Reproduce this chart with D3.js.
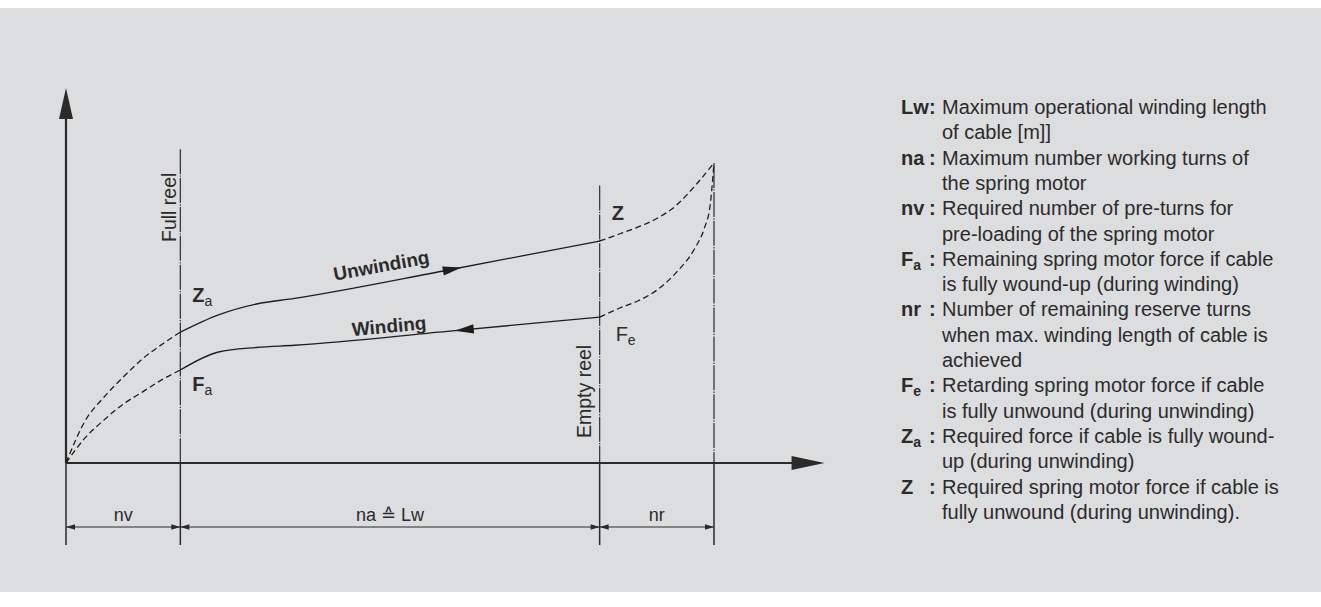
<!DOCTYPE html>
<html>
<head>
<meta charset="utf-8">
<script src="https://cdn.jsdelivr.net/npm/d3@7"></script>
<style>
  body { margin: 0; background: #fff; }
  text { font-family: "Liberation Sans", Arial, sans-serif; fill: #2b2b2b; }
</style>
</head>
<body>
<div id="chart"></div>
<script>
// turns on the x axis: pre-turns, working turns, reserve turns
let segments = [
  {label: "nv", turns: 3},
  {label: "na \u2259 Lw", turns: 11},
  {label: "nr", turns: 3}
];

// force curves [turns, force], each split in dashed / solid / dashed part
let zStart = [[0,0],[0.5,11.2],[1,17.6],[1.5,22.9],[2,27.7],[2.5,31.5],[3,34.9]];
let zRun   = [[3,34.9],[4,39.5],[5,42.4],[6,43.9],[10,51.4],[14,59.2]];
let zEnd   = [[14,59.2],[14.5,61.0],[15,62.9],[15.5,65.2],[16,68.6],[16.5,73.9],[17,80]];

let fStart = [[0,0],[0.5,6.7],[1,11.5],[1.5,15.7],[2,18.9],[2.5,22.1],[3,24.8]];
let fRun   = [[3,24.8],[4,29.6],[5,30.8],[6,31.4],[10,35.1],[14,38.9]];
let fEnd   = [[14,38.9],[14.5,41.2],[15,43.2],[15.5,46.1],[16,50.7],[16.5,57.3],[16.75,62.7],[16.9,68.8],[17,80]];

let reelLines = [
  {turns: 3,  top: 83.7, label: "Full reel"},
  {turns: 14, top: 74,   label: "Empty reel"},
  {turns: 17, top: 80,   label: null}
];

let legendKeys = [
  {key: "Lw", sub: null, lines: ["Maximum operational winding length", "of cable [m]]"]},
  {key: "na", sub: null, lines: ["Maximum number working turns of", "the spring motor"]},
  {key: "nv", sub: null, lines: ["Required number of pre-turns for", "pre-loading of the spring motor"]},
  {key: "F",  sub: "a",  lines: ["Remaining spring motor force if cable", "is fully wound-up (during winding)"]},
  {key: "nr", sub: null, lines: ["Number of remaining reserve turns", "when max. winding length of cable is", "achieved"]},
  {key: "F",  sub: "e",  lines: ["Retarding spring motor force if cable", "is fully unwound (during unwinding)"]},
  {key: "Z",  sub: "a",  lines: ["Required force if cable is fully wound-", "up (during unwinding)"]},
  {key: "Z",  sub: null, lines: ["Required spring motor force if cable is", "fully unwound (during unwinding)."]}
];

let svgWidth = 1321;
let svgHeight = 607;
let xMax = 19.9;
let yMax = 100;

let svg = d3.select("#chart")
  .append("svg")
  .attr("width", svgWidth)
  .attr("height", svgHeight)

svg.append("rect")
  .attr("x", 0).attr("y", 8)
  .attr("width", svgWidth).attr("height", 584)
  .attr("fill", "#dcdddf")

let xScale = d3.scaleLinear().domain([0,17]).range([66,714])
let yScale = d3.scaleLinear().domain([0,yMax]).range([463,88])

let ink = "#2a2a2a";

// reel lines (dash-dot above the axis, solid below as dimension extension)
let bounds = [0];
segments.forEach(s => bounds.push(bounds[bounds.length-1] + s.turns));

reelLines.forEach(r => {
  svg.append("line")
    .attr("x1", xScale(r.turns)).attr("x2", xScale(r.turns))
    .attr("y1", yScale(r.top)).attr("y2", yScale(0))
    .attr("stroke", "#3a3a3a").attr("stroke-width", 1.3)
    .attr("stroke-dasharray", "25,1.3,1.3,1.3")
  if (r.label) {
    let lx = r.turns == 3 ? xScale(r.turns) - 4 : xScale(r.turns) - 9;
    let ly = r.turns == 3 ? 242 : 438;
    svg.append("text")
      .attr("transform", `translate(${lx},${ly}) rotate(-90)`)
      .attr("font-size", 19.5)
      .attr("fill", "#333")
      .text(r.label)
  }
});

let dimY = 527;
bounds.forEach(b => {
  svg.append("line")
    .attr("x1", xScale(b)).attr("x2", xScale(b))
    .attr("y1", yScale(0)).attr("y2", dimY + 18)
    .attr("stroke", ink).attr("stroke-width", 1.5)
});

// dimension chain
segments.forEach((s, i) => {
  let a = xScale(bounds[i]), b = xScale(bounds[i+1]);
  svg.append("line")
    .attr("x1", a).attr("x2", b).attr("y1", dimY).attr("y2", dimY)
    .attr("stroke", ink).attr("stroke-width", 1)
  svg.append("path")
    .attr("d", `M${a},${dimY}l9,-2.8v5.6z M${b},${dimY}l-9,-2.8v5.6z`)
    .attr("fill", ink)
  svg.append("text")
    .attr("x", (a+b)/2).attr("y", dimY - 6)
    .attr("text-anchor", "middle")
    .attr("font-size", 18)
    .text(s.label)
});

// axes with arrow heads
svg.append("line")
  .attr("x1", xScale(0)).attr("x2", xScale(xMax) - 20)
  .attr("y1", yScale(0)).attr("y2", yScale(0))
  .attr("stroke", ink).attr("stroke-width", 2.2)
svg.append("path")
  .attr("d", `M${xScale(xMax)},${yScale(0)}l-33,-7v14z`)
  .attr("fill", ink)
svg.append("line")
  .attr("x1", xScale(0)).attr("x2", xScale(0))
  .attr("y1", yScale(0)).attr("y2", yScale(yMax) + 20)
  .attr("stroke", ink).attr("stroke-width", 2.2)
svg.append("path")
  .attr("d", `M${xScale(0)},${yScale(yMax)}l-7,31h14z`)
  .attr("fill", ink)

// curves
let line = d3.line()
  .x(d => xScale(d[0]))
  .y(d => yScale(d[1]))
  .curve(d3.curveMonotoneX)

function drawPart(data, dashed) {
  svg.append("path")
    .attr("d", line(data))
    .attr("fill", "none")
    .attr("stroke", "#1e1e1e")
    .attr("stroke-width", 1.3)
    .attr("stroke-dasharray", dashed ? "6,3.5" : null)
}
[zStart, zEnd, fStart, fEnd].forEach(d => drawPart(d, true));
[zRun, fRun].forEach(d => drawPart(d, false));

// point on a polyline at a given turn value
function pointAt(data, t) {
  let i = d3.bisector(d => d[0]).left(data, t);
  i = Math.max(1, Math.min(i, data.length - 1));
  let p0 = data[i-1], p1 = data[i];
  let k = (t - p0[0]) / (p1[0] - p0[0]);
  return [xScale(t), yScale(p0[1] + k*(p1[1]-p0[1]))];
}
function angleAt(data, t) {
  let a = pointAt(data, t - 0.5), b = pointAt(data, t + 0.5);
  return Math.atan2(b[1]-a[1], b[0]-a[0]) * 180 / Math.PI;
}

function runLabel(data, t, label, offset, arrowT, dir) {
  let p = pointAt(data, t), ang = angleAt(data, t);
  svg.append("text")
    .attr("transform", `translate(${p[0]},${p[1]}) rotate(${ang}) translate(0,${offset})`)
    .attr("text-anchor", "middle")
    .attr("font-size", 19)
    .attr("font-weight", "bold")
    .attr("fill", "#262626")
    .text(label)
  let q = pointAt(data, arrowT), qa = angleAt(data, arrowT);
  svg.append("path")
    .attr("transform", `translate(${q[0]},${q[1]}) rotate(${qa + (dir < 0 ? 180 : 0)})`)
    .attr("d", "M0,0l-19,-4.6v9.2z")
    .attr("fill", "#1e1e1e")
}
runLabel(zRun, 8.35, "Unwinding", -10, 10.38, 1);
runLabel(fRun, 8.5, "Winding", -4, 10.2, -1);

// point labels
function pointLabel(x, y, main, sub, bold) {
  let t = svg.append("text")
    .attr("x", x).attr("y", y)
    .attr("font-size", 20)
    .attr("font-weight", bold ? "bold" : "normal")
  t.append("tspan").text(main)
  if (sub) t.append("tspan").attr("dy", 4).attr("font-size", 14).attr("font-weight", "normal").text(sub)
}
pointLabel(xScale(3) + 12, 302, "Z", "a", true);
pointLabel(xScale(3) + 12, 391, "F", "a", true);
pointLabel(xScale(14) + 12, 220, "Z", null, true);
pointLabel(xScale(14) + 16, 341, "F", "e", false);

// legend
let legX = 901, colonX = 929, descX = 942, legY = 114, lineH = 25.3;
let row = 0;
legendKeys.forEach(k => {
  let y = legY + row * lineH;
  let t = svg.append("text")
    .attr("x", legX).attr("y", y)
    .attr("font-size", 20)
    .attr("font-weight", "bold")
  t.append("tspan").text(k.key)
  if (k.sub) t.append("tspan").attr("dy", 4).attr("font-size", 14).text(k.sub)
  svg.append("text")
    .attr("x", colonX).attr("y", y)
    .attr("font-size", 20).attr("font-weight", "bold")
    .text(":")
  k.lines.forEach(l => {
    svg.append("text")
      .attr("x", descX).attr("y", legY + row * lineH)
      .attr("font-size", 20)
      .attr("fill", "#333")
      .text(l)
    row++;
  });
});
</script>
</body>
</html>
